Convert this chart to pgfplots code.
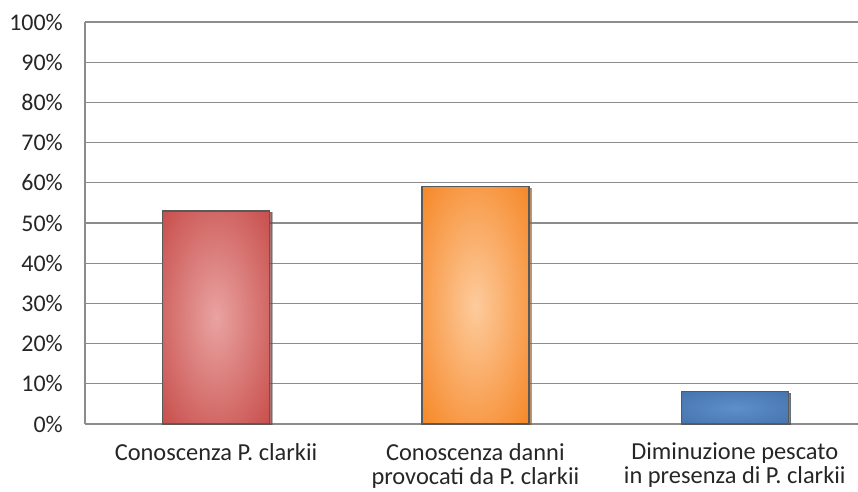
\documentclass[border=0pt]{standalone}
\usepackage{fontspec}
\setmainfont{Carlito}
\usepackage{pgfplots}
\pgfplotsset{compat=1.18}
\usetikzlibrary{shadows}

\definecolor{gridgray}{HTML}{8C8C8C}
\definecolor{labeltext}{HTML}{262626}
\definecolor{redin}{HTML}{E9A3A1}
\definecolor{redmid}{HTML}{C9524F}
\definecolor{redout}{HTML}{A8403D}
\definecolor{orgin}{HTML}{FDCB9C}
\definecolor{orgmid}{HTML}{F68A2C}
\definecolor{orgout}{HTML}{E06E10}
\definecolor{bluin}{HTML}{5E8FCB}
\definecolor{blumid}{HTML}{4675AE}
\definecolor{bluout}{HTML}{36608F}

% glossy bar fills: light centre fading to the base colour
\pgfdeclareradialshading{redbar}{\pgfpoint{0bp}{0bp}}{color(0bp)=(redin); color(34bp)=(redmid); color(60bp)=(redout); color(71bp)=(redout)}
\pgfdeclareradialshading{orgbar}{\pgfpoint{0bp}{0bp}}{color(0bp)=(orgin); color(34bp)=(orgmid); color(60bp)=(orgout); color(71bp)=(orgout)}
\pgfdeclareradialshading{blubar}{\pgfpoint{0bp}{0bp}}{color(0bp)=(bluin); color(34bp)=(blumid); color(60bp)=(bluout); color(71bp)=(bluout)}

\begin{document}
\begin{tikzpicture}
\useasboundingbox (-85bp,-68bp) rectangle (773bp,424bp);
\begin{axis}[
  at={(0,0)}, anchor=south west,
  scale only axis, width=773bp, height=402bp,
  xmin=-0.505, xmax=2.475, ymin=0, ymax=100,
  ybar, bar width=107bp, bar shift=0pt,
  xtick={0,1,2},
  xticklabels={Conoscenza P. clarkii,
    {Conoscenza danni\\provocati da P. clarkii},
    {Diminuzione pescato\\in presenza di P. clarkii}},
  ytick={0,10,...,100},
  yticklabel={\pgfmathprintnumber{\tick}\%},
  /pgf/number format/assume math mode=true,
  axis x line*=bottom, axis y line*=left,
  axis line style={gridgray, line width=1.2bp},
  ymajorgrids, grid style={gridgray, line width=1.2bp},
  major tick length=0pt,
  tick style={draw=none},
  tick label style={text=labeltext},
  yticklabel style={font=\fontsize{24}{28}\selectfont, inner sep=0pt, xshift=-22bp},
  xticklabel style={font=\fontsize{24.5}{24}\selectfont, align=center, inner sep=0pt, yshift=-19bp},
  every axis plot/.append style={draw=black!65, line width=1.3bp,
    drop shadow={shadow xshift=2.5bp, shadow yshift=-1.5bp, opacity=0.45, fill=black}},
]
\addplot[shading=redbar] coordinates {(0,53)};
\addplot[shading=orgbar] coordinates {(1,59)};
\addplot[shading=blubar] coordinates {(2,8)};
\end{axis}
\end{tikzpicture}
\end{document}
